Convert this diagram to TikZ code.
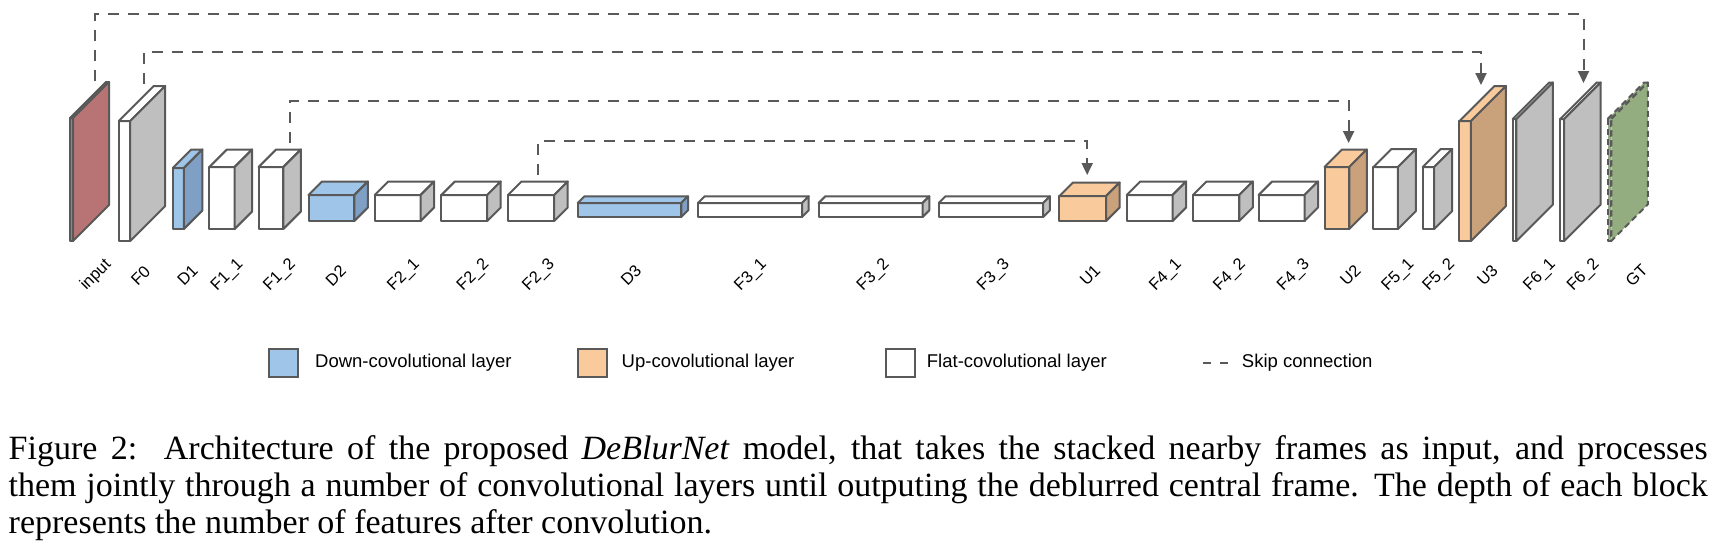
\documentclass[tikz,border=0pt]{standalone}
\usepackage{fontspec}
\setmainfont{Liberation Serif}
\newfontfamily\arialf{Liberation Sans}
\usetikzlibrary{arrows.meta,calc}
\definecolor{edge}{HTML}{595959}
\definecolor{redf}{HTML}{B87474}
\definecolor{grays}{HTML}{BFBFBF}
\definecolor{bluef}{HTML}{9FC5E8}
\definecolor{blues}{HTML}{7F9FC4}
\definecolor{orangef}{HTML}{F9CB9C}
\definecolor{oranges}{HTML}{C9A17B}
\definecolor{greenf}{HTML}{93AD80}
\tikzset{
  box/.style={draw=edge, line width=2pt, line join=round},
  skipline/.style={draw=edge, line width=2pt, dash pattern=on 11pt off 9pt, -{Triangle[width=11pt,length=12pt]}},
  lbl/.style={rotate=45, font=\arialf\fontsize{16.5}{18}\selectfont, inner sep=0pt},
  legbox/.style={draw=edge, line width=2pt, minimum width=29pt, minimum height=28pt, inner sep=0pt},
  legtxt/.style={anchor=west, font=\arialf\fontsize{18.5}{20}\selectfont, inner sep=0pt},
}
% #1 x1, #2 x2, #3 ytop, #4 ybottom, #5 depth, #6 front, #7 top, #8 side, #9 extra
\newcommand{\blk}[9]{%
  \filldraw[box,fill=#6,#9] (#1,#3) rectangle (#2,#4);
  \filldraw[box,fill=#7,#9] (#1,#3) -- ({#1+#5},{#3-#5}) -- ({#2+#5},{#3-#5}) -- (#2,#3) -- cycle;
  \filldraw[box,fill=#8,#9] (#2,#3) -- ({#2+#5},{#3-#5}) -- ({#2+#5},{#4-#5}) -- (#2,#4) -- cycle;
}
\begin{document}
\begin{tikzpicture}[x=1pt,y=-1pt]
\useasboundingbox (0,0) rectangle (1721,550);
\fill[white] (0,0) rectangle (1721,550);
% blocks
\blk{70}{73}{118}{241}{36}{redf}{redf}{redf}{}
\blk{118.8}{130.2}{121}{241}{35}{white}{white}{grays}{}
\blk{172.8}{183.9}{168}{229}{18.5}{bluef}{bluef}{blues}{}
\blk{209.4}{234.6}{167}{229}{17.5}{white}{white}{grays}{}
\blk{258.6}{283.4}{167}{229}{17.5}{white}{white}{grays}{}
\blk{308.5}{354.4}{195}{221}{13.5}{bluef}{bluef}{blues}{}
\blk{374.8}{420.6}{195}{221}{13.5}{white}{white}{grays}{}
\blk{441.4}{487.2}{195}{221}{13.5}{white}{white}{grays}{}
\blk{508.0}{554.2}{195}{221}{13.5}{white}{white}{grays}{}
\blk{577.8}{681.3}{203}{217}{6.7}{bluef}{bluef}{blues}{}
\blk{698.0}{802.0}{203}{217}{6.7}{white}{white}{grays}{}
\blk{818.6}{922.6}{203}{217}{6.7}{white}{white}{grays}{}
\blk{938.8}{1043.2}{203}{217}{6.7}{white}{white}{grays}{}
\blk{1059.4}{1106.1}{196}{221}{13.5}{orangef}{orangef}{oranges}{}
\blk{1126.8}{1172.6}{195}{221}{13.5}{white}{white}{grays}{}
\blk{1193.0}{1239.3}{195}{221}{13.5}{white}{white}{grays}{}
\blk{1258.6}{1304.5}{195}{221}{13.5}{white}{white}{grays}{}
\blk{1324.5}{1349.3}{167}{229}{17.5}{orangef}{orangef}{oranges}{}
\blk{1373.4}{1397.9}{167}{229}{18}{white}{white}{grays}{}
\blk{1422.7}{1434.2}{167}{229}{18}{white}{white}{grays}{}
\blk{1459.4}{1470.9}{121}{241}{35}{orangef}{orangef}{oranges}{}
\blk{1512.7}{1516.4}{119}{241}{36.5}{white}{white}{grays}{}
\blk{1560.2}{1564.2}{119}{241}{36.5}{white}{white}{grays}{}
\blk{1607.6}{1611.3}{119}{241}{36.5}{greenf}{greenf}{greenf}{dash pattern=on 6pt off 4pt}
% skip connections
\coordinate (s1a) at (95,81);   \coordinate (s1k) at (95,14);   \coordinate (s1b) at (1583.5,83);
\coordinate (s2a) at (143.5,84); \coordinate (s2k) at (143.5,52); \coordinate (s2b) at (1481,85);
\coordinate (s3a) at (289.7,143); \coordinate (s3k) at (289.7,101); \coordinate (s3b) at (1348.6,143);
\coordinate (s4a) at (538.3,175); \coordinate (s4k) at (538.3,141); \coordinate (s4b) at (1087.2,175);
\draw[skipline] (s1a) -- (s1k) -| (s1b);
\draw[skipline] (s2a) -- (s2k) -| (s2b);
\draw[skipline] (s3a) -- (s3k) -| (s3b);
\draw[skipline] (s4a) -- (s4k) -| (s4b);
% labels
\node[lbl] (l0) at (96,275) {input};
\node[lbl] (l1) at (140.6,275.5) {F0};
\node[lbl] (l2) at (187.5,275.5) {D1};
\node[lbl] (l3) at (227.5,275.5) {F1\_1};
\node[lbl] (l4) at (280,275.5) {F1\_2};
\node[lbl] (l5) at (335.7,275.5) {D2};
\node[lbl] (l6) at (404,275.5) {F2\_1};
\node[lbl] (l7) at (473.5,275.5) {F2\_2};
\node[lbl] (l8) at (539,275.5) {F2\_3};
\node[lbl] (l9) at (631,275.5) {D3};
\node[lbl] (l10) at (751,275.5) {F3\_1};
\node[lbl] (l11) at (873.6,275.5) {F3\_2};
\node[lbl] (l12) at (993.8,275.5) {F3\_3};
\node[lbl] (l13) at (1090,275.5) {U1};
\node[lbl] (l14) at (1166,275.5) {F4\_1};
\node[lbl] (l15) at (1229.9,275.5) {F4\_2};
\node[lbl] (l16) at (1293.8,275.5) {F4\_3};
\node[lbl] (l17) at (1350.3,275.5) {U2};
\node[lbl] (l18) at (1398.4,275.5) {F5\_1};
\node[lbl] (l19) at (1439.2,275.5) {F5\_2};
\node[lbl] (l20) at (1487.3,275.5) {U3};
\node[lbl] (l21) at (1540,275.5) {F6\_1};
\node[lbl] (l22) at (1583.7,275.5) {F6\_2};
\node[lbl] (l23) at (1636.5,275.5) {GT};
% legend
\node[legbox, fill=bluef] (lgb1) at (283.5,363) {};
\node[legtxt] (lgt1) at (315,363) {Down-covolutional layer};
\node[legbox, fill=orangef] (lgb2) at (592,363) {};
\node[legtxt] (lgt2) at (621.5,363) {Up-covolutional layer};
\node[legbox, fill=white] (lgb3) at (900,363) {};
\node[legtxt] (lgt3) at (926.7,363) {Flat-covolutional layer};
\coordinate (lgd1) at (1203,363); \coordinate (lgd2) at (1229,363);
\draw[draw=edge, line width=2pt, dash pattern=on 8pt off 9pt] (lgd1) -- (lgd2);
\node[legtxt] (lgt4) at (1241.7,363) {Skip connection};
% caption
\node[anchor=north west, inner sep=0pt, text width=1699pt, align=justify,
      font=\fontsize{34}{37}\selectfont] (cap) at (8.5,435)
 {\tolerance=10000\hyphenpenalty=10000 Figure 2:\ \ Architecture of the proposed \textit{DeBlurNet} model, that takes the stacked nearby frames as input, and processes\linebreak them jointly through a number of convolutional layers until outputing the deblurred central frame. The depth of each block\linebreak represents the number of features after convolution.};
\end{tikzpicture}
\end{document}
